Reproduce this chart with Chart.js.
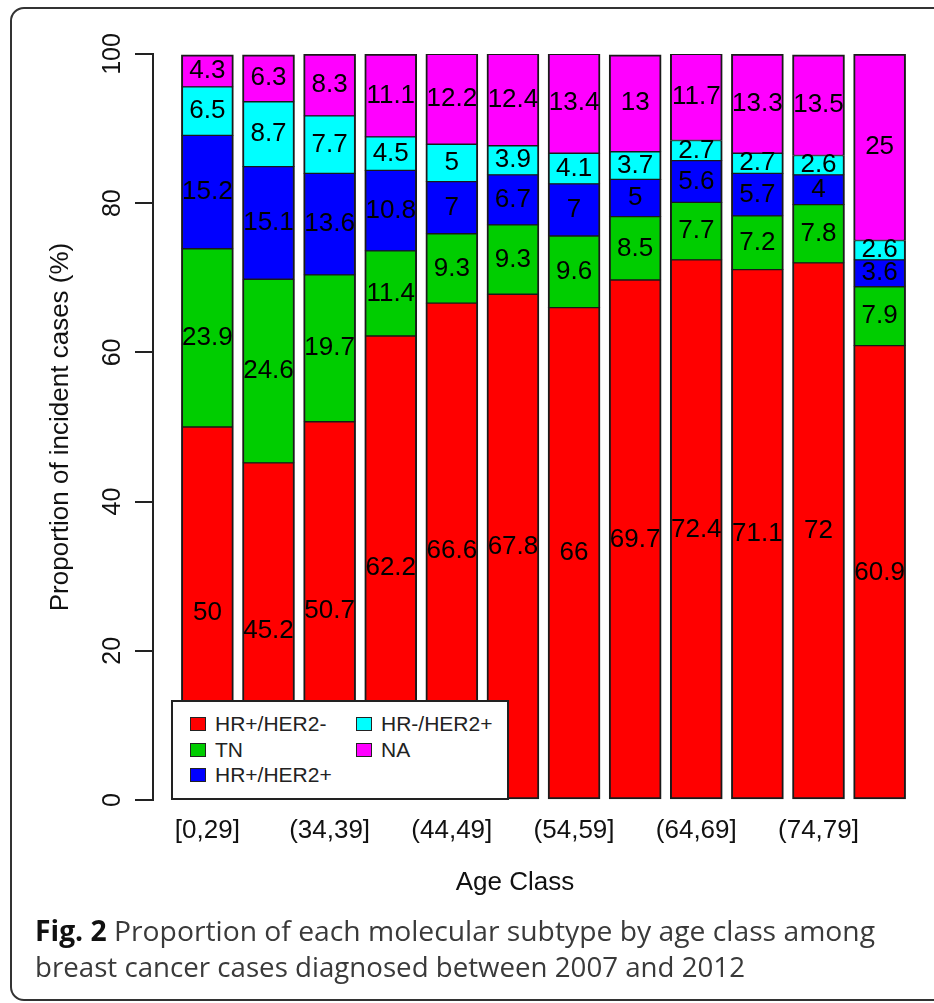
<!DOCTYPE html>
<html>
<head>
<meta charset="utf-8">
<script src="https://cdn.jsdelivr.net/npm/chart.js@4.4.1/dist/chart.umd.min.js"></script>
<style>
  html, body { margin: 0; padding: 0; background: #fff; }
  body { width: 934px; height: 1003px; position: relative; overflow: hidden; }
  #frame { position: absolute; left: 10px; top: 7px; width: 960px; height: 994px; box-sizing: border-box;
           border: 2px solid #333; border-radius: 14px; }
  #chart { position: absolute; left: 0; top: 0; }
  #legend { position: absolute; left: 171px; top: 700px; width: 338px; height: 100px; box-sizing: border-box;
            border: 2px solid #222; background: #fff; font: 21px "Liberation Sans", Arial, sans-serif; color: #222; }
  .item { position: absolute; display: flex; align-items: center; height: 24px; line-height: 24px; white-space: nowrap; }
  .sw { width: 16px; height: 14px; box-sizing: border-box; border: 1.5px solid #222; margin-right: 9px; }
  .cap { position: absolute; left: 35px; font: 28px "Open Sans", sans-serif; color: #3a3a3a; white-space: nowrap;
         transform-origin: 0 0; line-height: 36px; }
  .cap b { color: #111; }
</style>
</head>
<body>
<div id="frame"></div>
<canvas id="chart" width="934" height="1003"></canvas>
<div id="legend"></div>
<div class="cap" id="cap1" style="top:912px"><b>Fig. 2</b> Proportion of each molecular subtype by age class among</div>
<div class="cap" id="cap2" style="top:948px">breast cancer cases diagnosed between 2007 and 2012</div>
<script>
// age classes (only every other one is labelled on the axis)
const AGE_CLASSES = ['[0,29]', '(29,34]', '(34,39]', '(39,44]', '(44,49]', '(49,54]',
                     '(54,59]', '(59,64]', '(64,69]', '(69,74]', '(74,79]', '(79,Inf]'];
const Y_TICKS = [0, 20, 40, 60, 80, 100];

// proportions (%) per subtype, bottom to top
const HR_POS_HER2_NEG = [50, 45.2, 50.7, 62.2, 66.6, 67.8, 66, 69.7, 72.4, 71.1, 72, 60.9];
const TN              = [23.9, 24.6, 19.7, 11.4, 9.3, 9.3, 9.6, 8.5, 7.7, 7.2, 7.8, 7.9];
const HR_POS_HER2_POS = [15.2, 15.1, 13.6, 10.8, 7, 6.7, 7, 5, 5.6, 5.7, 4, 3.6];
const HR_NEG_HER2_POS = [6.5, 8.7, 7.7, 4.5, 5, 3.9, 4.1, 3.7, 2.7, 2.7, 2.6, 2.6];
const NA_CASES        = [4.3, 6.3, 8.3, 11.1, 12.2, 12.4, 13.4, 13, 11.7, 13.3, 13.5, 25];

const SERIES_NAMES  = ['HR+/HER2-', 'TN', 'HR+/HER2+', 'HR-/HER2+', 'NA'];
const SERIES_COLORS = ['#ff0000', '#00cd00', '#0000ff', '#00ffff', '#ff00ff'];
const SERIES_VALUES = [HR_POS_HER2_NEG, TN, HR_POS_HER2_POS, HR_NEG_HER2_POS, NA_CASES];

// barplot-like layout in bar-width units: gap 0.2, 4% padding each side
const SPACE = 0.2;
const barPos = i => SPACE + 0.5 + i * (1 + SPACE);
const spanL = SPACE, spanR = AGE_CLASSES.length * (1 + SPACE);
const X_MIN = spanL - 0.04 * (spanR - spanL);
const X_MAX = spanR + 0.04 * (spanR - spanL);

const FONT = '"Liberation Sans", Arial, sans-serif';
Chart.defaults.font.family = FONT;
Chart.defaults.color = '#111';

const last = SERIES_VALUES.length - 1;
const datasets = SERIES_VALUES.map((vals, k) => ({
  label: SERIES_NAMES[k],
  data: vals.map((v, i) => ({ x: barPos(i), y: v })),
  backgroundColor: SERIES_COLORS[k],
  borderColor: '#1a1a1a',
  borderWidth: { left: 2, right: 2, top: k === last ? 2 : 1, bottom: k === 0 ? 2 : 1 },
  borderSkipped: false,
  barThickness: 52
}));

const segmentLabels = {
  id: 'segmentLabels',
  afterDatasetsDraw(chart) {
    const ctx = chart.ctx;
    ctx.save();
    ctx.font = '26px ' + FONT;
    ctx.fillStyle = '#000';
    ctx.textAlign = 'center';
    ctx.textBaseline = 'middle';
    chart.data.datasets.forEach((ds, k) => {
      chart.getDatasetMeta(k).data.forEach((bar, i) => {
        ctx.fillText(String(SERIES_VALUES[k][i]), bar.x, (bar.y + bar.base) / 2);
      });
    });
    ctx.restore();
  }
};

const axisText = {
  id: 'axisText',
  afterDraw(chart) {
    const ctx = chart.ctx;
    const y = chart.scales.y;
    ctx.save();
    ctx.fillStyle = '#111';
    ctx.font = '25px ' + FONT;
    ctx.textAlign = 'center';
    ctx.textBaseline = 'middle';
    Y_TICKS.forEach(v => {
      ctx.save();
      ctx.translate(113, y.getPixelForValue(v));
      ctx.rotate(-Math.PI / 2);
      ctx.fillText(String(v), 0, 0);
      ctx.restore();
    });
    ctx.font = '26px ' + FONT;
    ctx.textBaseline = 'alphabetic';
    ctx.fillText('Age Class', 515, 890);
    ctx.restore();
  }
};

new Chart(document.getElementById('chart'), {
  type: 'bar',
  data: { datasets },
  options: {
    responsive: false,
    animation: false,
    devicePixelRatio: 1,
    layout: { padding: { top: 54, right: 0, bottom: 143, left: 0 } },
    plugins: { legend: { display: false }, tooltip: { enabled: false } },
    scales: {
      x: {
        type: 'linear', min: X_MIN, max: X_MAX, stacked: true, offset: false,
        grid: { display: false, drawTicks: false, offset: false },
        border: { display: false },
        afterBuildTicks: s => {
          s.ticks = AGE_CLASSES.map((c, i) => ({ value: barPos(i) })).filter((t, i) => i % 2 === 0);
        },
        ticks: {
          autoSkip: false, maxRotation: 0, minRotation: 0, padding: 15, color: '#111',
          font: { size: 26 },
          callback: v => AGE_CLASSES[Math.round((v - barPos(0)) / (1 + SPACE))]
        },
        afterFit: s => { s.height = 60; s.paddingLeft = 0; s.paddingRight = 0; }
      },
      y: {
        min: 0, max: 100, stacked: true,
        afterBuildTicks: s => { s.ticks = Y_TICKS.map(v => ({ value: v })); },
        grid: { drawOnChartArea: false, drawTicks: true, tickLength: 18, color: '#222', lineWidth: 2 },
        border: { display: true, color: '#222', width: 2 },
        ticks: { display: false },
        title: { display: true, text: 'Proportion of incident cases (%)', color: '#111',
                 font: { size: 26 }, padding: { top: 45, bottom: 0 } },
        afterFit: s => { s.width = 153; s.paddingTop = 0; s.paddingBottom = 0; }
      }
    }
  },
  plugins: [segmentLabels, axisText]
});

// legend box, two columns filled column-wise (3 rows)
const legend = document.getElementById('legend');
const ROW_TOPS = [10, 36, 61];
const COL_LEFTS = [17, 183];
SERIES_NAMES.forEach((name, i) => {
  const it = document.createElement('div');
  it.className = 'item';
  it.style.left = COL_LEFTS[Math.floor(i / 3)] + 'px';
  it.style.top = ROW_TOPS[i % 3] + 'px';
  it.innerHTML = `<span class="sw" style="background:${SERIES_COLORS[i]}"></span><span>${name}</span>`;
  legend.appendChild(it);
});

// squeeze caption lines to the reference widths
function fitWidth(id, w) {
  const el = document.getElementById(id);
  const cur = el.getBoundingClientRect().width;
  el.style.transform = `scaleX(${w / cur})`;
}
fitWidth('cap1', 840);
fitWidth('cap2', 710);
</script>
</body>
</html>
